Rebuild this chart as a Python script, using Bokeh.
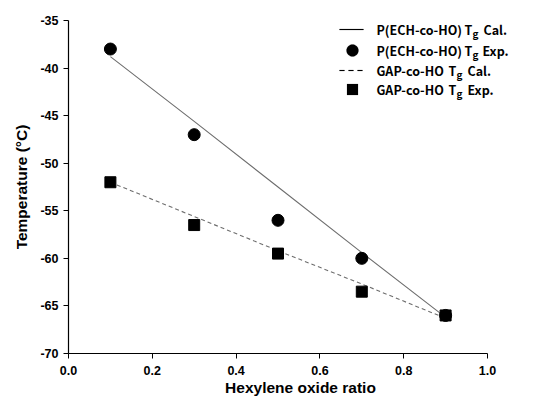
import math
from bokeh.plotting import figure
from bokeh.models import FixedTicker, Label, Range1d, PrintfTickFormatter, PolyAnnotation
from bokeh.embed import file_html
from bokeh.resources import INLINE

ratio = [0.1, 0.3, 0.5, 0.7, 0.9]
ech_cal = [-38.8, -45.6, -52.5, -59.4, -66.2]
ech_exp = [-38.0, -47.0, -56.0, -60.0, -66.0]
gap_cal = [-52.0, -55.6, -59.2, -62.7, -66.3]
gap_exp = [-52.0, -56.5, -59.5, -63.5, -66.0]
x_ticks = [0.0, 0.2, 0.4, 0.6, 0.8, 1.0]
y_ticks = [-70, -65, -60, -55, -50, -45, -40, -35]
legend_main = ["P(ECH-co-HO)", "P(ECH-co-HO)", "GAP-co-HO", "GAP-co-HO"]
legend_tail = ["Cal.", "Exp.", "Cal.", "Exp."]

# frame: left 68, bottom 353, top 20; x=1.0 at 487 px, frame extended to 532 px
p = figure(width=537, height=410, output_backend="svg", toolbar_location=None,
           x_range=Range1d(0, 464 / 419), y_range=Range1d(-70, -35),
           min_border_left=68, min_border_right=5, min_border_top=20, min_border_bottom=57)
p.outline_line_color = None
p.grid.visible = False
p.background_fill_color = "white"
p.border_fill_color = "white"

FONT = "Liberation Sans"
for ax in (p.xaxis[0], p.yaxis[0]):
    ax.major_label_text_font = FONT
    ax.major_label_text_font_style = "bold"
    ax.major_label_text_font_size = "12.5px"
    ax.major_label_text_color = "black"
    ax.axis_label_text_font = FONT
    ax.axis_label_text_font_style = "bold"
    ax.axis_label_text_font_size = "15.5px"
    ax.axis_label_text_color = "black"
    ax.axis_line_color = "black"
    ax.axis_line_width = 1.2
    ax.major_tick_line_color = "black"
    ax.major_tick_out = 5
    ax.major_tick_in = 0
    ax.minor_tick_line_color = None

p.xaxis.bounds = (0, 1)
p.xaxis.ticker = FixedTicker(ticks=x_ticks)
p.xaxis.formatter = PrintfTickFormatter(format="%.1f")
p.yaxis.ticker = FixedTicker(ticks=y_ticks)
p.yaxis.formatter = PrintfTickFormatter(format="%d")
p.xaxis.axis_label = "Hexylene oxide ratio"
p.yaxis.axis_label = "Temperature (°C)"
p.xaxis.major_label_standoff = 7
p.xaxis.axis_label_standoff = 1
p.yaxis.major_label_standoff = 5
p.yaxis.axis_label_standoff = 7

p.line(ratio, ech_cal, line_color="#6e6e6e", line_width=1.1)
p.line(ratio, gap_cal, line_color="#6e6e6e", line_width=1.1, line_dash="4 3")
p.scatter(ratio, ech_exp, marker="circle", size=12, color="black")
p.scatter(ratio, gap_exp, marker="square", size=11, color="black")

# manual legend, screen units relative to the frame's bottom-left (68, 353)
OX, OY = 68, 353
LF = "Noto Sans CJK KR"

def lbl(x, y, t, size="12.5px"):
    p.add_layout(Label(x=x - OX, y=OY - y, x_units="screen", y_units="screen", text=t,
                       text_font=LF, text_font_style="bold", text_font_size=size,
                       text_color="black", text_baseline="middle", text_align="left"))

rows_y = [29, 50, 70, 89]
t_x = [464, 464, 448, 448]
g_x = [472, 472, 456, 456]
tail_x = [483, 482, 467, 467]
for t, tail, y, tx0, gx, tx in zip(legend_main, legend_tail, rows_y, t_x, g_x, tail_x):
    lbl(376, y, t)
    lbl(tx0, y, "T")
    lbl(gx, y + 4, "g", "10px")
    lbl(tx, y, tail)

def poly(xs, ys):
    p.add_layout(PolyAnnotation(xs=[a - OX for a in xs], ys=[OY - b for b in ys],
                                xs_units="screen", ys_units="screen",
                                fill_color="black", fill_alpha=1, line_color="black", line_width=0.5))

poly([339, 363, 363, 339], [28.5, 28.5, 29.5, 29.5])
for x0 in (339, 348, 357):
    poly([x0, x0 + 5, x0 + 5, x0], [69.5, 69.5, 70.5, 70.5])
cx, cy, r = 352, 50, 6
pts = [(cx + r * math.cos(2 * math.pi * k / 40), cy + r * math.sin(2 * math.pi * k / 40)) for k in range(40)]
poly([a for a, b in pts], [b for a, b in pts])
poly([346.5, 357.5, 357.5, 346.5], [83.5, 83.5, 94.5, 94.5])

open("out.html", "w").write(file_html(p, INLINE))
